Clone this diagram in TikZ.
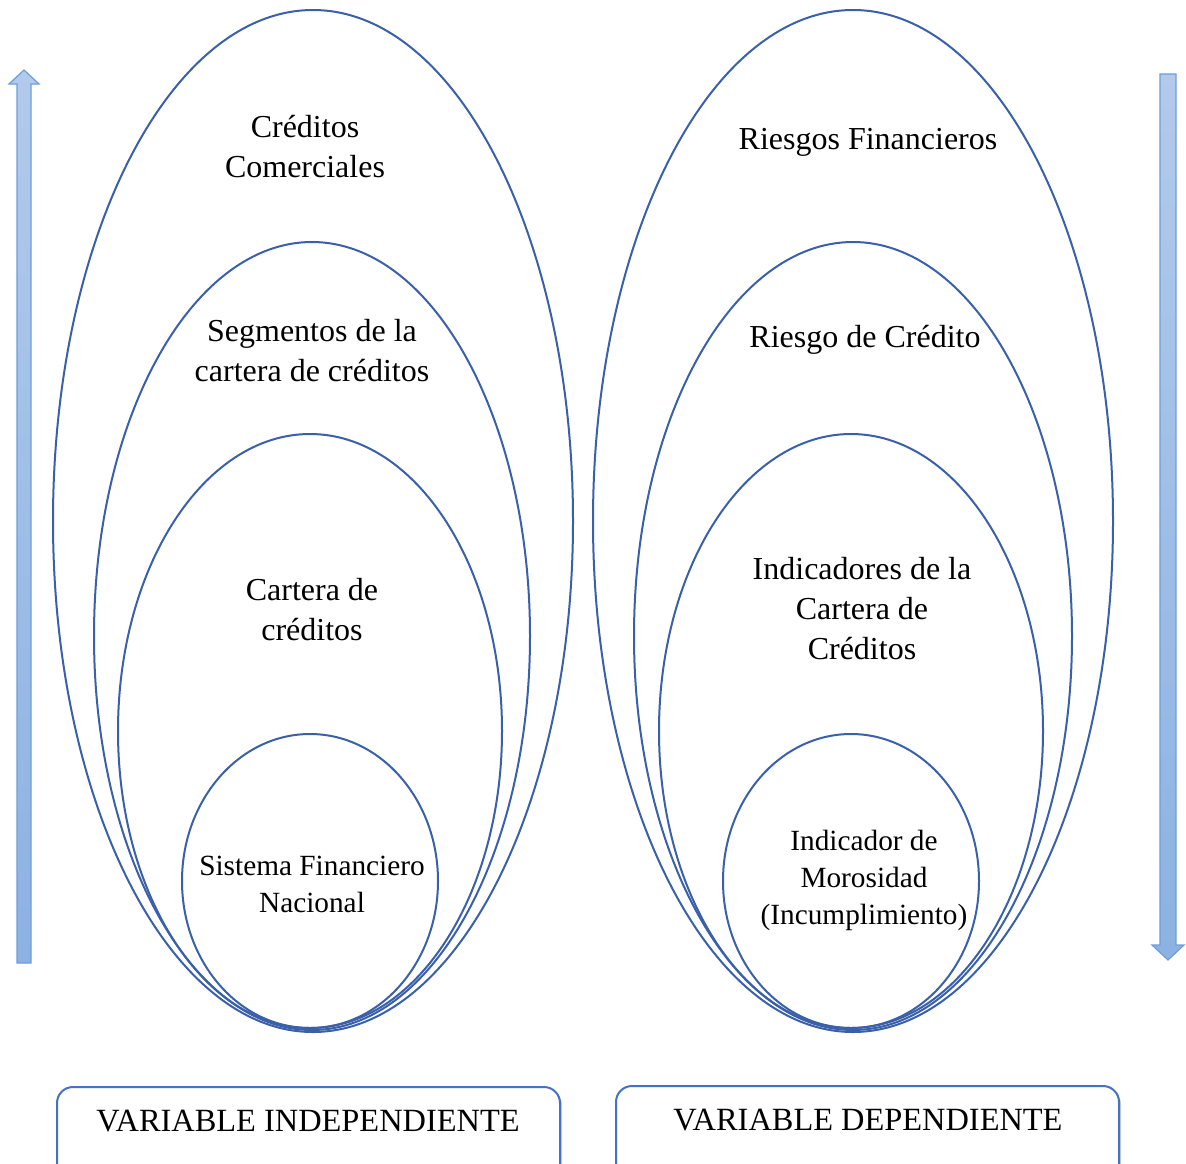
\documentclass[tikz,border=0pt]{standalone}
\usepackage{fontspec}
\setmainfont{Liberation Serif}
\usetikzlibrary{shadows}
\definecolor{ringblue}{HTML}{3A60AA}
\definecolor{boxblue}{HTML}{4472C4}
\definecolor{arrowedge}{HTML}{6E9ED8}
\definecolor{arrowtop}{HTML}{B2CAEB}
\definecolor{arrowbot}{HTML}{8CB2E2}
\tikzset{
  ring/.style={draw=ringblue, line width=2pt},
  bigtext/.style={align=center, font=\fontsize{32}{40}\selectfont},
  smalltext/.style={align=center, font=\fontsize{29.3}{37}\selectfont},
  boxtext/.style={align=center, font=\fontsize{32.4}{40}\selectfont},
  varbox/.style={draw=boxblue, line width=2pt, rounded corners=16pt, fill=white,
    drop shadow={shadow xshift=2pt, shadow yshift=-2pt, opacity=0.35}},
  bigarrow/.style={draw=arrowedge, line width=1.2pt, top color=arrowtop, bottom color=arrowbot}
}
\begin{document}
\begin{tikzpicture}[x=1pt, y=-1pt]
\clip (0,0) rectangle (1186,1163);
\fill[white] (0,0) rectangle (1186,1163);

% left column of nested ellipses
\draw[ring] (313,521) ellipse [x radius=260pt, y radius=511pt];
\draw[ring] (312,636) ellipse [x radius=218pt, y radius=394pt];
\draw[ring] (310,731) ellipse [x radius=192pt, y radius=297pt];
\draw[ring] (310,881) ellipse [x radius=128pt, y radius=147pt];

% right column of nested ellipses
\draw[ring] (853,521) ellipse [x radius=260pt, y radius=511pt];
\draw[ring] (853,636) ellipse [x radius=219pt, y radius=394pt];
\draw[ring] (851,731) ellipse [x radius=192pt, y radius=297pt];
\draw[ring] (851,881) ellipse [x radius=128pt, y radius=147pt];

% labels, left
\node[bigtext] (cc) at (305,147) {Créditos\\Comerciales};
\node[bigtext] (seg) at (312,351) {Segmentos de la\\cartera de créditos};
\node[bigtext] (car) at (312,610) {Cartera de\\créditos};
\node[smalltext] (sfn) at (312,884) {Sistema Financiero\\Nacional};

% labels, right
\node[bigtext] (rf) at (868,142) {Riesgos Financieros};
\node[bigtext] (rc) at (865,340) {Riesgo de Crédito};
\node[bigtext] (icc) at (862,609) {Indicadores de la\\Cartera de\\Créditos};
\node[smalltext] (im) at (864,880) {Indicador de\\Morosidad\\(Incumplimiento)};

% side arrows
\path[bigarrow] (17,963) -- (17,84) -- (9,84) -- (24,70) -- (39,84) -- (31,84) -- (31,963) -- cycle;
\path[bigarrow] (1160,74) -- (1176,74) -- (1176,945) -- (1184,945) -- (1168,960) -- (1152,945) -- (1160,945) -- cycle;

% variable boxes
\draw[varbox] (57,1087) rectangle (560,1200);
\node[boxtext] (vi) at (308,1121) {VARIABLE INDEPENDIENTE};
\draw[varbox] (616,1086) rectangle (1119,1200);
\node[boxtext] (vd) at (868,1120) {VARIABLE DEPENDIENTE};
\end{tikzpicture}
\end{document}
